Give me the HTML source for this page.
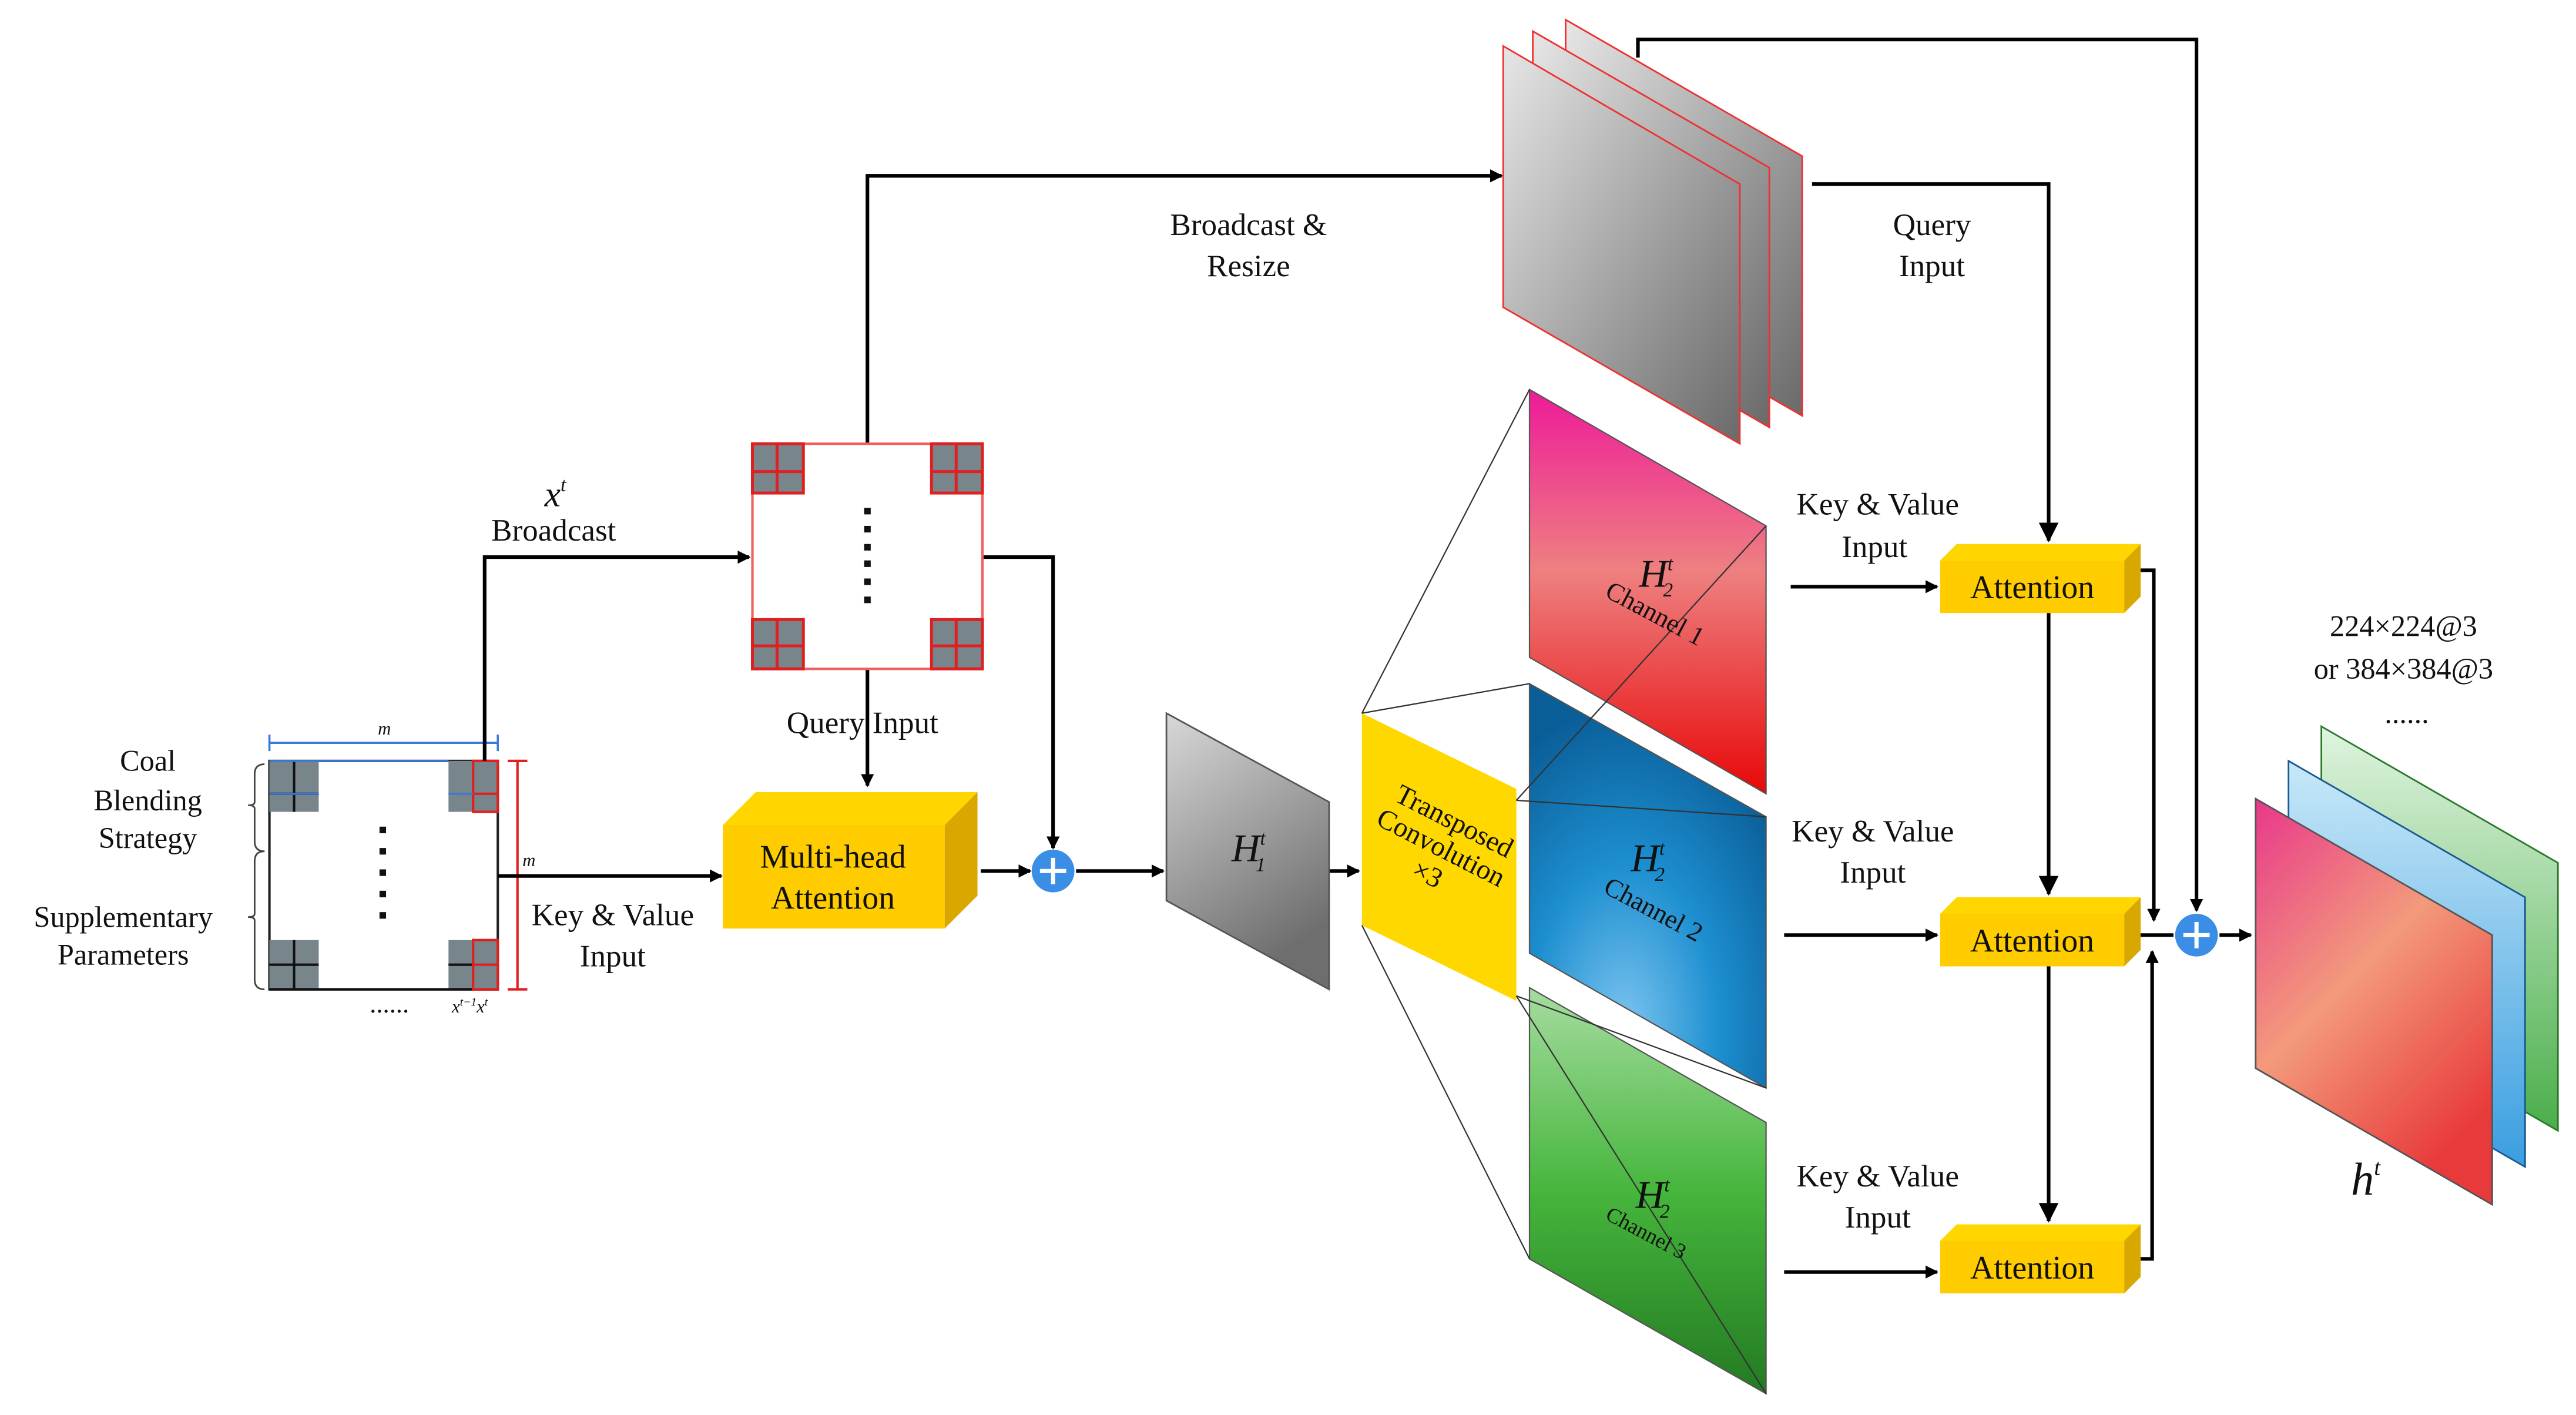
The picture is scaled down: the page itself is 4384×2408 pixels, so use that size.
<!DOCTYPE html>
<html><head><meta charset="utf-8"><style>html,body{margin:0;padding:0;background:#fff}svg{display:block}text{font-family:"Liberation Serif",serif;fill:#111}</style></head>
<body>
<svg width="4384" height="2408" viewBox="0 0 1568 861" preserveAspectRatio="none" xmlns="http://www.w3.org/2000/svg">
<defs>
<marker id="a" markerWidth="8" markerHeight="8" refX="7" refY="4" orient="auto" markerUnits="userSpaceOnUse"><path d="M0,0 L8,4 L0,8 z" fill="#000"/></marker>
<marker id="b" markerWidth="12" markerHeight="12" refX="11" refY="6" orient="auto" markerUnits="userSpaceOnUse"><path d="M0,0 L12,6 L0,12 z" fill="#000"/></marker>
<linearGradient id="gr" x1="0" y1="0" x2="1" y2="1"><stop offset="0" stop-color="#e6e6e6"/><stop offset="1" stop-color="#6a6a6a"/></linearGradient>
<linearGradient id="gh" x1="0" y1="0" x2="0.4" y2="1"><stop offset="0" stop-color="#d8d8d8"/><stop offset="1" stop-color="#6e6e6e"/></linearGradient>
<linearGradient id="rd" x1="0" y1="0" x2="0" y2="1"><stop offset="0" stop-color="#ee1a9a"/><stop offset="0.45" stop-color="#ee8080"/><stop offset="1" stop-color="#e80808"/></linearGradient>
<radialGradient id="bl" cx="0.4" cy="0.85" r="0.8"><stop offset="0" stop-color="#7cc4ef"/><stop offset="0.5" stop-color="#1d8fd0"/><stop offset="1" stop-color="#0a5e98"/></radialGradient>
<linearGradient id="gn" x1="0" y1="0" x2="0" y2="1"><stop offset="0" stop-color="#a6dca0"/><stop offset="0.5" stop-color="#46b63c"/><stop offset="1" stop-color="#237a22"/></linearGradient>
<linearGradient id="o1" x1="0" y1="0" x2="0.6" y2="1"><stop offset="0" stop-color="#e8388a"/><stop offset="0.5" stop-color="#f39a7c"/><stop offset="1" stop-color="#e83a3a"/></linearGradient>
<linearGradient id="o2" x1="0" y1="0" x2="0" y2="1"><stop offset="0" stop-color="#c8e8f8"/><stop offset="1" stop-color="#3a9ee0"/></linearGradient>
<linearGradient id="o3" x1="0" y1="0" x2="0" y2="1"><stop offset="0" stop-color="#e0f4e0"/><stop offset="1" stop-color="#4aae4a"/></linearGradient>
</defs>

<rect x="164" y="463" width="139" height="139" fill="#fff" stroke="#222" stroke-width="1.5"/>
<g fill="#78868c">
<rect x="164" y="463" width="30" height="31"/><rect x="273" y="463" width="30" height="31"/>
<rect x="164" y="572" width="30" height="30"/><rect x="273" y="572" width="30" height="30"/></g>
<g stroke="#111" stroke-width="1.5"><line x1="179" y1="463" x2="179" y2="494"/><line x1="164" y1="483" x2="194" y2="483"/>
<line x1="179" y1="572" x2="179" y2="602"/><line x1="164" y1="587" x2="194" y2="587"/><line x1="273" y1="587" x2="288" y2="587"/>
<line x1="164" y1="602" x2="303" y2="602"/></g>
<g stroke="#e02020" stroke-width="1.5" fill="none"><rect x="288" y="463" width="15" height="31"/><line x1="288" y1="483" x2="303" y2="483"/>
<rect x="288" y="572" width="15" height="30"/><line x1="288" y1="587" x2="303" y2="587"/>
<line x1="315" y1="463" x2="315" y2="602"/><line x1="309" y1="463" x2="321" y2="463"/><line x1="309" y1="602" x2="321" y2="602"/></g>
<g stroke="#3a7ad8" stroke-width="1.3"><line x1="164" y1="452" x2="303" y2="452"/><line x1="164" y1="447" x2="164" y2="457"/><line x1="303" y1="447" x2="303" y2="457"/><line x1="164" y1="463" x2="273" y2="463"/><line x1="273" y1="483" x2="288" y2="483"/><line x1="164" y1="483" x2="194" y2="483"/></g>
<g fill="#111"><rect x="231" y="503" width="4" height="4"/><rect x="231" y="516" width="4" height="4"/><rect x="231" y="529" width="4" height="4"/><rect x="231" y="542" width="4" height="4"/><rect x="231" y="555" width="4" height="4"/></g>
<text x="234" y="447" font-size="11" font-style="italic" text-anchor="middle">m</text>
<text x="322" y="527" font-size="11" font-style="italic" text-anchor="middle">m</text>
<text x="237" y="616" font-size="16" text-anchor="middle">......</text>
<text x="286" y="616" font-size="11" font-style="italic" text-anchor="middle">x<tspan dy="-4" font-size="7">t−1</tspan><tspan dy="4">x</tspan><tspan dy="-4" font-size="7">t</tspan></text>
<path d="M161,465 q-6,0 -6,6 v17 q0,2 -4,2 q4,0 4,2 v20 q0,6 6,6" fill="none" stroke="#444" stroke-width="1"/>
<path d="M161,518 q-6,0 -6,6 v32 q0,2 -4,2 q4,0 4,2 v36 q0,6 6,6" fill="none" stroke="#444" stroke-width="1"/>
<g font-size="18" text-anchor="middle"><text x="90" y="469">Coal</text><text x="90" y="493">Blending</text><text x="90" y="516">Strategy</text>
<text x="75" y="564">Supplementary</text><text x="75" y="587">Parameters</text></g>

<g stroke="#000" stroke-width="2.2" fill="none">
<polyline points="295,463 295,339 456,339" marker-end="url(#a)"/>
<polyline points="528,270 528,107 914,107" marker-end="url(#a)"/>
<polyline points="598,339 641,339 641,516" marker-end="url(#a)"/>
<line x1="528" y1="407" x2="528" y2="478" marker-end="url(#a)"/>
<line x1="303" y1="533" x2="439" y2="533" marker-end="url(#a)"/>
<line x1="597" y1="530" x2="627" y2="530" marker-end="url(#a)"/>
<line x1="655" y1="530" x2="708" y2="530" marker-end="url(#a)"/>
<line x1="809" y1="530" x2="827" y2="530" marker-end="url(#a)"/>
</g>
<text x="338" y="308" font-size="22" font-style="italic" text-anchor="middle">x<tspan dy="-9" font-size="12">t</tspan></text>
<text x="337" y="329" font-size="19" text-anchor="middle">Broadcast</text>
<text x="525" y="446" font-size="19" text-anchor="middle">Query Input</text>
<text x="373" y="563" font-size="19" text-anchor="middle">Key &amp; Value</text>
<text x="373" y="588" font-size="19" text-anchor="middle">Input</text>
<text x="760" y="143" font-size="19" text-anchor="middle">Broadcast &amp;</text>
<text x="760" y="168" font-size="19" text-anchor="middle">Resize</text>

<rect x="458" y="270" width="140" height="137" fill="#fff" stroke="#f06060" stroke-width="1.5"/>
<g fill="#78868c"><rect x="458" y="270" width="31" height="30"/><rect x="567" y="270" width="31" height="30"/><rect x="458" y="377" width="31" height="30"/><rect x="567" y="377" width="31" height="30"/></g>
<g stroke="#e02020" stroke-width="1.8" fill="none"><rect x="458" y="270" width="31" height="30"/><rect x="567" y="270" width="31" height="30"/><rect x="458" y="377" width="31" height="30"/><rect x="567" y="377" width="31" height="30"/>
<line x1="473" y1="270" x2="473" y2="300"/><line x1="458" y1="287" x2="489" y2="287"/><line x1="582" y1="270" x2="582" y2="300"/><line x1="567" y1="287" x2="598" y2="287"/>
<line x1="473" y1="377" x2="473" y2="407"/><line x1="458" y1="393" x2="489" y2="393"/><line x1="582" y1="377" x2="582" y2="407"/><line x1="567" y1="393" x2="598" y2="393"/></g>
<g fill="#111"><rect x="526" y="309" width="4" height="4"/><rect x="526" y="320" width="4" height="4"/><rect x="526" y="331" width="4" height="4"/><rect x="526" y="341" width="4" height="4"/><rect x="526" y="352" width="4" height="4"/><rect x="526" y="363" width="4" height="4"/></g>

<polygon points="440,502 460,482 595,482 575,502" fill="#ffd600"/>
<polygon points="575,502 595,482 595,545 575,565" fill="#d9a800"/>
<rect x="440" y="502" width="135" height="63" fill="#ffcc00"/>
<text x="507" y="528" font-size="20" text-anchor="middle">Multi-head</text>
<text x="507" y="553" font-size="20" text-anchor="middle">Attention</text>

<circle cx="641" cy="530" r="13" fill="#3a8ee6"/>
<path d="M641,522 v16 M633,530 h16" stroke="#fff" stroke-width="2.5"/>

<polygon points="710,434 809,488 809,602 710,548" fill="url(#gh)" stroke="#555" stroke-width="1"/>
<text x="760" y="524" font-size="24" font-style="italic" text-anchor="middle">H<tspan dy="-10" font-size="12">t</tspan><tspan dx="-6" dy="16" font-size="12">1</tspan></text>

<polygon points="931,237 1075,320 1075,483 931,400" fill="url(#rd)" stroke="#555" stroke-width="0.8"/>
<polygon points="931,416 1075,497 1075,662 931,580" fill="url(#bl)" stroke="#555" stroke-width="0.8"/>
<polygon points="931,601 1075,683 1075,848 931,766" fill="url(#gn)" stroke="#555" stroke-width="0.8"/>
<polygon points="829,434 923,480 923,609 829,563" fill="#ffd800"/>
<g stroke="#333" stroke-width="0.8">
<line x1="829" y1="434" x2="931" y2="237"/><line x1="829" y1="434" x2="931" y2="416"/>
<line x1="923" y1="487" x2="1075" y2="320"/><line x1="923" y1="487" x2="1075" y2="497"/>
<line x1="923" y1="606" x2="1075" y2="662"/><line x1="923" y1="606" x2="1075" y2="848"/>
<line x1="829" y1="563" x2="931" y2="766"/></g>
<g font-size="17" text-anchor="middle">
<text transform="translate(876,518) rotate(27)" y="-15">Transposed</text>
<text transform="translate(876,518) rotate(27)" y="3">Convolution</text>
<text transform="translate(876,518) rotate(27)" y="21">×3</text></g>
<g font-size="16">
<text transform="translate(1005,378) rotate(28)" text-anchor="middle">Channel 1</text>
<text transform="translate(1004,558) rotate(28)" text-anchor="middle">Channel 2</text>
<text transform="translate(1000,754) rotate(28)" text-anchor="middle" font-size="13">Channel 3</text></g>
<g font-size="24" font-style="italic" text-anchor="middle">
<text x="1008" y="357">H<tspan dy="-10" font-size="12">t</tspan><tspan dx="-6" dy="16" font-size="12">2</tspan></text>
<text x="1003" y="530">H<tspan dy="-10" font-size="12">t</tspan><tspan dx="-6" dy="16" font-size="12">2</tspan></text>
<text x="1006" y="735">H<tspan dy="-10" font-size="12">t</tspan><tspan dx="-6" dy="16" font-size="12">2</tspan></text></g>

<polygon points="953,12 1097,95 1097,253 953,170" fill="url(#gr)" stroke="#f03030" stroke-width="1"/>
<polygon points="933,19 1077,102 1077,260 933,177" fill="url(#gr)" stroke="#f03030" stroke-width="1"/>
<polygon points="915,28 1059,112 1059,270 915,187" fill="url(#gr)" stroke="#f03030" stroke-width="1"/>

<g stroke="#000" stroke-width="2.2" fill="none">
<polyline points="997,35 997,24 1337,24 1337,554" marker-end="url(#a)"/>
<polyline points="1103,112 1247,112 1247,329" marker-end="url(#b)"/>
<line x1="1247" y1="373" x2="1247" y2="544" marker-end="url(#b)"/>
<line x1="1247" y1="588" x2="1247" y2="743" marker-end="url(#b)"/>
<line x1="1090" y1="357" x2="1179" y2="357" marker-end="url(#a)"/>
<line x1="1086" y1="569" x2="1179" y2="569" marker-end="url(#a)"/>
<line x1="1086" y1="774" x2="1179" y2="774" marker-end="url(#a)"/>
<polyline points="1303,347 1311,347 1311,560" marker-end="url(#a)"/>
<polyline points="1303,766 1310,766 1310,579" marker-end="url(#a)"/>
<line x1="1303" y1="569" x2="1323" y2="569"/>
<line x1="1351" y1="569" x2="1370" y2="569" marker-end="url(#a)"/>
</g>
<g font-size="19" text-anchor="middle">
<text x="1176" y="143">Query</text><text x="1176" y="168">Input</text>
<text x="1143" y="313">Key &amp; Value</text><text x="1141" y="339">Input</text>
<text x="1140" y="512">Key &amp; Value</text><text x="1140" y="537">Input</text>
<text x="1143" y="722">Key &amp; Value</text><text x="1143" y="747">Input</text></g>

<g>
<polygon points="1181,341 1191,331 1303,331 1293,341" fill="#ffd600"/><polygon points="1293,341 1303,331 1303,363 1293,373" fill="#d9a800"/><rect x="1181" y="341" width="112" height="32" fill="#ffcc00"/>
<polygon points="1181,556 1191,546 1303,546 1293,556" fill="#ffd600"/><polygon points="1293,556 1303,546 1303,578 1293,588" fill="#d9a800"/><rect x="1181" y="556" width="112" height="32" fill="#ffcc00"/>
<polygon points="1181,755 1191,745 1303,745 1293,755" fill="#ffd600"/><polygon points="1293,755 1303,745 1303,777 1293,787" fill="#d9a800"/><rect x="1181" y="755" width="112" height="32" fill="#ffcc00"/>
</g>
<g font-size="20" text-anchor="middle"><text x="1237" y="364">Attention</text><text x="1237" y="579">Attention</text><text x="1237" y="778">Attention</text></g>

<circle cx="1337" cy="569" r="13" fill="#3a8ee6"/>
<path d="M1337,561 v16 M1329,569 h16" stroke="#fff" stroke-width="2.5"/>

<polygon points="1413,442 1557,525 1557,688 1413,605" fill="url(#o3)" stroke="#2a7a2a" stroke-width="1"/>
<polygon points="1393,463 1537,546 1537,710 1393,627" fill="url(#o2)" stroke="#1a5a90" stroke-width="1"/>
<polygon points="1373,486 1517,569 1517,733 1373,650" fill="url(#o1)" stroke="#555" stroke-width="1"/>
<text x="1440" y="727" font-size="28" font-style="italic" text-anchor="middle">h<tspan dy="-12" font-size="14">t</tspan></text>
<g font-size="18" text-anchor="middle"><text x="1463" y="387">224×224@3</text><text x="1463" y="413">or 384×384@3</text><text x="1465" y="440">......</text></g>
</svg>
</body></html>
